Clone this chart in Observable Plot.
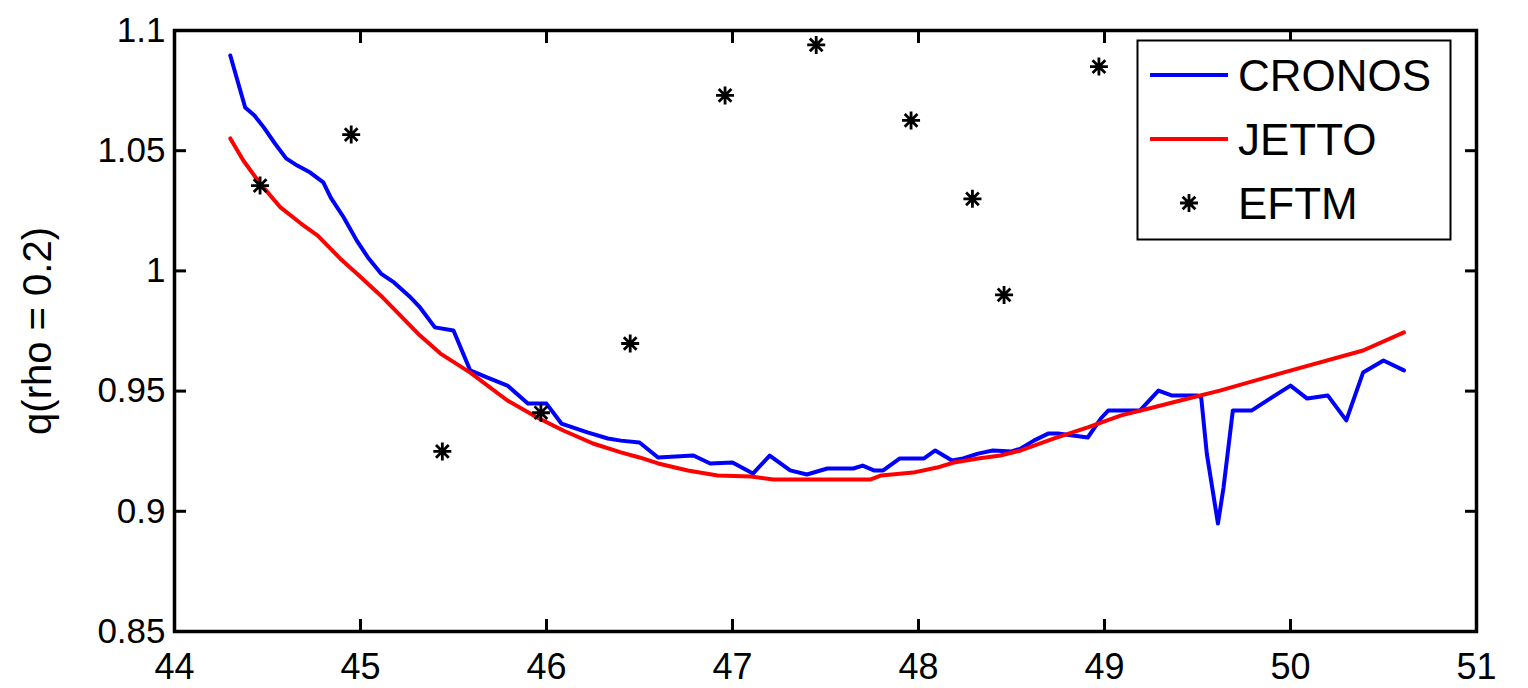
<!DOCTYPE html>
<html>
<head>
<meta charset="utf-8">
<script src="https://cdn.jsdelivr.net/npm/d3@7"></script>
<script src="https://cdn.jsdelivr.net/npm/@observablehq/plot@0.6"></script>
<style>
  body { margin: 0; background: #fff; }
  #wrap { position: relative; width: 1528px; height: 688px; overflow: hidden; background: #fff; }
  #legend { position: absolute; left: 1136px; top: 39px; }
</style>
</head>
<body>
<div id="wrap">
  <div id="chart"></div>
  <svg id="legend" width="316" height="202"></svg>
</div>
<script>
// ---- Data ----
const cronosTime = [44.30, 44.38, 44.43, 44.48, 44.54, 44.60, 44.66, 44.73, 44.80, 44.84, 44.91, 44.98, 45.04, 45.11, 45.18, 45.27, 45.32, 45.40, 45.50, 45.59, 45.68, 45.79, 45.90, 46.00, 46.08, 46.22, 46.33, 46.40, 46.50, 46.60, 46.79, 46.88, 47.00, 47.11, 47.20, 47.31, 47.40, 47.51, 47.65, 47.70, 47.76, 47.81, 47.90, 48.03, 48.09, 48.18, 48.24, 48.32, 48.40, 48.50, 48.55, 48.62, 48.70, 48.75, 48.91, 48.98, 49.02, 49.19, 49.29, 49.36, 49.50, 49.52, 49.55, 49.61, 49.64, 49.69, 49.79, 50.00, 50.09, 50.20, 50.30, 50.39, 50.50, 50.61];
const cronosQ    = [1.0896, 1.0680, 1.0646, 1.0597, 1.0530, 1.0468, 1.0438, 1.0409, 1.0368, 1.0305, 1.0222, 1.0126, 1.0056, 0.9989, 0.9952, 0.9889, 0.9848, 0.9765, 0.9752, 0.9586, 0.9557, 0.9523, 0.9448, 0.9448, 0.9365, 0.9328, 0.9303, 0.9294, 0.9286, 0.9224, 0.9232, 0.9199, 0.9203, 0.9157, 0.9232, 0.9170, 0.9153, 0.9178, 0.9178, 0.9190, 0.9170, 0.9170, 0.9220, 0.9220, 0.9253, 0.9211, 0.9220, 0.9240, 0.9253, 0.9249, 0.9261, 0.9294, 0.9324, 0.9324, 0.9307, 0.9386, 0.9419, 0.9419, 0.9502, 0.9482, 0.9482, 0.9473, 0.9240, 0.8949, 0.9099, 0.9419, 0.9419, 0.9523, 0.9469, 0.9482, 0.9378, 0.9577, 0.9627, 0.9586];

const jettoTime = [44.30, 44.37, 44.46, 44.57, 44.68, 44.77, 44.89, 44.98, 45.12, 45.32, 45.43, 45.59, 45.79, 45.95, 46.09, 46.25, 46.40, 46.50, 46.60, 46.76, 46.92, 47.10, 47.22, 47.47, 47.74, 47.80, 47.97, 48.10, 48.19, 48.32, 48.44, 48.55, 48.73, 48.91, 49.09, 49.26, 49.45, 49.62, 49.96, 50.39, 50.61];
const jettoQ    = [1.0551, 1.0459, 1.0364, 1.0264, 1.0197, 1.0147, 1.0052, 0.9989, 0.9889, 0.9731, 0.9656, 0.9577, 0.9461, 0.9390, 0.9336, 0.9282, 0.9245, 0.9224, 0.9199, 0.9170, 0.9149, 0.9145, 0.9132, 0.9132, 0.9132, 0.9149, 0.9161, 0.9182, 0.9203, 0.9220, 0.9232, 0.9253, 0.9303, 0.9349, 0.9399, 0.9432, 0.9469, 0.9502, 0.9577, 0.9669, 0.9744];

const eftmTime = [44.46, 44.95, 45.44, 45.97, 46.45, 46.96, 47.45, 47.96, 48.29, 48.46, 48.97];
const eftmQ    = [1.0355, 1.0567, 0.9249, 0.9410, 0.9698, 1.0730, 1.0940, 1.0626, 1.0300, 0.9900, 1.0850];

const xTicks = [44, 45, 46, 47, 48, 49, 50, 51];
const yTicks = [0.85, 0.9, 0.95, 1, 1.05, 1.1];
const seriesNames = ["CRONOS", "JETTO", "EFTM"];
const seriesColors = ["#0000ff", "#ff0000", "#000000"];
const yLabel = "q(rho = 0.2)";

// ---- Tables built from the arrays ----
const cronos = cronosTime.map((t, i) => ({t, q: cronosQ[i]}));
const jetto = jettoTime.map((t, i) => ({t, q: jettoQ[i]}));
const eftm = eftmTime.map((t, i) => ({t, q: eftmQ[i]}));

// MATLAB-style '*' marker (8 arms)
const star = {
  draw(ctx, size) {
    const r = Math.sqrt(size / Math.PI);
    const d = r * Math.SQRT1_2;
    ctx.moveTo(-r, 0); ctx.lineTo(r, 0);
    ctx.moveTo(0, -r); ctx.lineTo(0, r);
    ctx.moveTo(-d, -d); ctx.lineTo(d, d);
    ctx.moveTo(-d, d); ctx.lineTo(d, -d);
  }
};

const fmt = d => String(+d.toFixed(2));
const font = '"Liberation Sans", Arial, Helvetica, sans-serif';

const chart = Plot.plot({
  width: 1528,
  height: 688,
  marginLeft: 174,
  marginRight: 52,
  marginTop: 30,
  marginBottom: 57,
  style: {fontFamily: font, fontSize: "35px", color: "#000", background: "#fff"},
  x: {domain: [44, 51]},
  y: {domain: [0.85, 1.1]},
  marks: [
    Plot.line(cronos, {x: "t", y: "q", stroke: seriesColors[0], strokeWidth: 4, strokeLinejoin: "round"}),
    Plot.line(jetto, {x: "t", y: "q", stroke: seriesColors[1], strokeWidth: 4, strokeLinejoin: "round"}),
    Plot.dot(eftm, {x: "t", y: "q", symbol: star, r: 9, stroke: seriesColors[2], strokeWidth: 2.8}),
    Plot.axisX(xTicks, {anchor: "bottom", tickSize: -12, tickFormat: () => "", label: null, strokeWidth: 3}),
    Plot.axisX(xTicks, {anchor: "top", tickSize: -12, tickFormat: () => "", label: null, strokeWidth: 3}),
    Plot.axisX(xTicks, {anchor: "bottom", tickSize: 0, tickPadding: 22, tickFormat: fmt, label: null, fontSize: 36}),
    Plot.axisY(yTicks, {anchor: "left", tickSize: -12, tickFormat: () => "", label: null, strokeWidth: 3}),
    Plot.axisY(yTicks, {anchor: "right", tickSize: -12, tickFormat: () => "", label: null, strokeWidth: 3}),
    Plot.axisY(yTicks, {anchor: "left", tickSize: 0, tickPadding: 9, tickFormat: fmt, label: null, fontSize: 35}),
    Plot.axisY(yTicks, {anchor: "left", tickSize: 0, tickFormat: () => "", label: yLabel, labelAnchor: "center", labelArrow: "none", labelOffset: 152, fontSize: 40}),
    Plot.frame({stroke: "#000", strokeWidth: 3.5})
  ]
});
document.getElementById("chart").appendChild(chart);

// ---- Legend (overlay box) ----
const lg = d3.select("#legend");
lg.append("rect").attr("x", 1.5).attr("y", 1.5).attr("width", 313).attr("height", 199)
  .attr("fill", "#fff").attr("stroke", "#000").attr("stroke-width", 2);
seriesNames.forEach((name, i) => {
  const cy = 36 + i * 64;
  if (i < 2) {
    lg.append("line").attr("x1", 14).attr("x2", 92).attr("y1", cy).attr("y2", cy)
      .attr("stroke", seriesColors[i]).attr("stroke-width", 4);
  } else {
    const p = d3.path();
    star.draw(p, Math.PI * 81);
    lg.append("path").attr("d", p.toString()).attr("transform", `translate(53,${cy})`)
      .attr("stroke", "#000").attr("stroke-width", 2.8).attr("fill", "none");
  }
  lg.append("text").attr("x", 102).attr("y", cy + 16).text(name)
    .attr("font-family", font).attr("font-size", 44).attr("fill", "#000");
});
</script>
</body>
</html>
